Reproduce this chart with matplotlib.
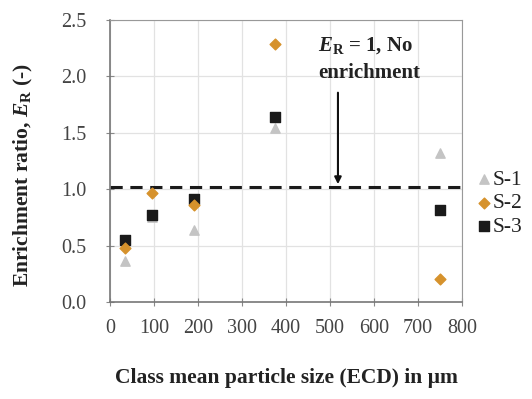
import matplotlib
matplotlib.use("Agg")
import matplotlib.pyplot as plt

x_vals = [34, 95, 191, 375, 750]
s1 = [0.36, 0.75, 0.64, 1.54, 1.32]
s2 = [0.48, 0.97, 0.86, 2.29, 0.20]
s3 = [0.55, 0.77, 0.91, 1.64, 0.82]
series_names = ["S-1", "S-2", "S-3"]
ref_level = 1.02
x_ticks = [0, 100, 200, 300, 400, 500, 600, 700, 800]
y_ticks = [0.0, 0.5, 1.0, 1.5, 2.0, 2.5]

plt.rcParams['font.family'] = ['Liberation Serif', 'DejaVu Serif']
plt.rcParams['mathtext.fontset'] = 'custom'
plt.rcParams['mathtext.it'] = 'Liberation Serif:italic:bold'
plt.rcParams['mathtext.rm'] = 'Liberation Serif:bold'
plt.rcParams['mathtext.bf'] = 'Liberation Serif:bold'

fig = plt.figure(figsize=(5.32, 3.99), dpi=100)
ax = fig.add_axes([0.2068, 0.243, 0.6617, 0.707])

ax.grid(True, color='#e2e2e2', linewidth=0.9)
ax.set_axisbelow(True)

ax.axhline(ref_level, color='#1a1a1a', linestyle=(0, (4, 2.5)), linewidth=2.2, zorder=2)

ax.scatter(x_vals, s1, marker='^', s=45, color='#c4c4c4', label=series_names[0], zorder=3)
ax.scatter(x_vals, s2, marker='D', s=30, color='#d6922c', label=series_names[1], zorder=4)
ax.scatter(x_vals, s3, marker='s', s=55, color='#1a1a1a', label=series_names[2], zorder=3)

ax.set_xlim(0, 800)
ax.set_ylim(0, 2.5)
ax.set_xticks(x_ticks)
ax.set_yticks(y_ticks)
ax.set_yticklabels([f"{v:.1f}" for v in y_ticks])
ax.tick_params(axis='both', labelsize=14.5, direction='inout', length=6, color='#888888')
ax.tick_params(axis='x', pad=9)
ax.tick_params(axis='y', pad=14)
ax.tick_params(axis='both', labelcolor='#444444')
for s in ax.spines.values():
    s.set_color('#999999')
ax.spines['left'].set_color('#777777')
ax.spines['bottom'].set_color('#777777')
ax.spines['left'].set_linewidth(1.2)
ax.spines['bottom'].set_linewidth(1.2)

ax.set_xlabel("Class mean particle size (ECD) in µm", fontsize=15.5, fontweight='bold', labelpad=22, color='#222222')
ax.set_ylabel(r"Enrichment ratio, $E_\mathbf{R}$ (-)", fontsize=15.5, fontweight='bold', color='#222222')
ax.yaxis.set_label_coords(-0.213, 0.45)

ax.text(473, 2.27, r"$E_\mathbf{R}$ = 1, No", fontsize=15, fontweight='bold', ha='left', va='center', color='#222222')
ax.text(473, 2.03, "enrichment", fontsize=15, fontweight='bold', ha='left', va='center', color='#222222')
ax.annotate("", xy=(518, ref_level), xytext=(518, 1.88),
            arrowprops=dict(arrowstyle='-|>', color='#111111', lw=1.5, mutation_scale=10))

leg = ax.legend(loc='center left', bbox_to_anchor=(1.0, 0.35), frameon=False, fontsize=15.5,
                handlelength=0.6, handletextpad=0.1, borderaxespad=0.3, labelspacing=0.15)
for t in leg.get_texts():
    t.set_color('#222222')

fig.savefig("out.png", dpi=100)
